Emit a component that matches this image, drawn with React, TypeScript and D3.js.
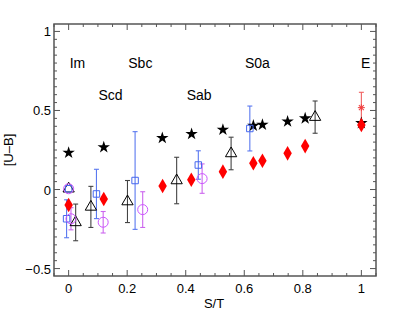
import React from "react";
import * as d3 from "d3";

const starX = [0, 0.12, 0.32, 0.42, 0.527, 0.631, 0.662, 0.748, 0.808, 1.0];
const starY = [0.233, 0.267, 0.326, 0.351, 0.378, 0.404, 0.41, 0.43, 0.45, 0.42];

const diamondX = [0, 0.12, 0.321, 0.419, 0.527, 0.631, 0.662, 0.748, 0.808, 1.0];
const diamondY = [-0.098, -0.06, 0.022, 0.062, 0.113, 0.166, 0.182, 0.229, 0.275, 0.408];

const triX = [0, 0.024, 0.076, 0.201, 0.369, 0.555, 0.842];
const triY = [0.005, -0.208, -0.11, -0.076, 0.057, 0.228, 0.458];
const triErr = [0, 0.116, 0.13, 0.133, 0.147, 0.103, 0.102];

const sqX = [0, -0.007, 0.095, 0.227, 0.443, 0.619];
const sqY = [0.005, -0.185, -0.028, 0.057, 0.155, 0.386];
const sqErr = [0, 0.12, 0.156, 0.309, 0.09, 0.142];

const circX = [0, 0.008, 0.118, 0.253, 0.456];
const circY = [0.005, -0.185, -0.207, -0.127, 0.069];
const circErr = [0, 0.07, 0.068, 0.113, 0.093];

const astX = [1.0];
const astY = [0.518];
const astErr = [0.097];

const typeLabels = ["Im", "Scd", "Sbc", "Sab", "S0a", "E"];
const typeX = [0.03, 0.143, 0.245, 0.446, 0.645, 1.015];
const typeY = [0.8, 0.6, 0.8, 0.6, 0.8, 0.8];

const xTicks = [0, 0.2, 0.4, 0.6, 0.8, 1];
const yTicks = [-0.5, 0, 0.5, 1];

const W = 415, H = 313;
const L = 54, R = 376, T = 24, B = 276;

export default function App() {
  const x = d3.scaleLinear().domain([-0.05, 1.05]).range([L, R]);
  const y = d3.scaleLinear().domain([-0.547, 1.047]).range([B, T]);
  const font = "'Liberation Sans', Arial, Helvetica, sans-serif";
  const axisColor = "#555";

  const xMinor = d3.range(-0.05, 1.0501, 0.05);
  const yMinor = d3.range(-0.5, 1.0001, 0.05);

  const star = d3.symbol().type(d3.symbolStar).size(48)()!;
  const diamond = d3.symbol().type(d3.symbolDiamond).size(62)()!;
  const tri = d3.symbol().type(d3.symbolTriangle).size(55)()!;
  const sq = d3.symbol().type(d3.symbolSquare).size(42)()!;

  const errBar = (xs: number[], ys: number[], es: number[], color: string, key: string) =>
    xs.map((xv, i) =>
      es[i] > 0 ? (
        <g key={key + i} stroke={color} strokeWidth={1.1}>
          <line x1={x(xv)} x2={x(xv)} y1={y(ys[i] + es[i])} y2={y(ys[i] - es[i])} />
          <line x1={x(xv) - 2.5} x2={x(xv) + 2.5} y1={y(ys[i] + es[i])} y2={y(ys[i] + es[i])} />
          <line x1={x(xv) - 2.5} x2={x(xv) + 2.5} y1={y(ys[i] - es[i])} y2={y(ys[i] - es[i])} />
        </g>
      ) : null
    );

  return (
    <svg width={W} height={H} style={{ position: "absolute", left: 0, top: 0, background: "#fff" }}>
      <rect x={L} y={T} width={R - L} height={B - T} fill="none" stroke={axisColor} strokeWidth={1.5} />
      {xMinor.map((v, i) => {
        const major = xTicks.some((t) => Math.abs(t - v) < 1e-6);
        const len = major ? 6 : 3;
        return (
          <g key={"xt" + i} stroke={axisColor} strokeWidth={1}>
            <line x1={x(v)} x2={x(v)} y1={B} y2={B - len} />
            <line x1={x(v)} x2={x(v)} y1={T} y2={T + len} />
          </g>
        );
      })}
      {yMinor.map((v, i) => {
        const major = yTicks.some((t) => Math.abs(t - v) < 1e-6);
        const len = major ? 6 : 3;
        return (
          <g key={"yt" + i} stroke={axisColor} strokeWidth={1}>
            <line x1={L} x2={L + len} y1={y(v)} y2={y(v)} />
            <line x1={R} x2={R - len} y1={y(v)} y2={y(v)} />
          </g>
        );
      })}
      {xTicks.map((v) => (
        <text key={"xl" + v} x={x(v)} y={B + 17} textAnchor="middle" fontFamily={font} fontSize={13}>
          {String(v)}
        </text>
      ))}
      {yTicks.map((v) => (
        <text key={"yl" + v} x={L - 3} y={y(v) + 5} textAnchor="end" fontFamily={font} fontSize={13}>
          {v < 0 ? "\u2212" + String(-v) : String(v)}
        </text>
      ))}
      <text x={(L + R) / 2 - 1} y={308} textAnchor="middle" fontFamily={font} fontSize={13}>S/T</text>
      <text transform={`translate(13,${(T + B) / 2}) rotate(-90)`} textAnchor="middle" fontFamily={font} fontSize={13}>[U–B]</text>

      {typeLabels.map((t, i) => (
        <text key={t} x={x(typeX[i])} y={y(typeY[i]) + 5} textAnchor="middle" fontFamily={font} fontSize={14}>
          {t}
        </text>
      ))}

      {errBar(sqX, sqY, sqErr, "#5a78f0", "se")}
      {errBar(circX, circY, circErr, "#cc66ee", "ce")}
      {errBar(triX, triY, triErr, "#444", "te")}
      {errBar(astX, astY, astErr, "#f06060", "ae")}

      {starX.map((v, i) => (
        <path key={"st" + i} d={star} transform={`translate(${x(v)},${y(starY[i])})`} fill="#000" />
      ))}
      {diamondX.map((v, i) => (
        <path key={"di" + i} d={diamond} transform={`translate(${x(v)},${y(diamondY[i])})`} fill="#ff0000" />
      ))}
      {triX.map((v, i) => (
        <path key={"tr" + i} d={tri} transform={`translate(${x(v)},${y(triY[i])})`} fill="none" stroke="#000" strokeWidth={1} />
      ))}
      {sqX.map((v, i) => (
        <path key={"sq" + i} d={sq} transform={`translate(${x(v)},${y(sqY[i])})`} fill="none" stroke="#4466ee" strokeWidth={1} />
      ))}
      {circX.map((v, i) => (
        <circle key={"ci" + i} cx={x(v)} cy={y(circY[i])} r={5} fill="none" stroke="#cc55ff" strokeWidth={1} />
      ))}
      {astX.map((v, i) => (
        <g key={"as" + i} transform={`translate(${x(v)},${y(astY[i])})`} stroke="#f04040" strokeWidth={1}>
          {[0, 45, 90, 135].map((a) => (
            <line key={a} x1={-3.5} x2={3.5} y1={0} y2={0} transform={`rotate(${a})`} />
          ))}
        </g>
      ))}
    </svg>
  );
}
